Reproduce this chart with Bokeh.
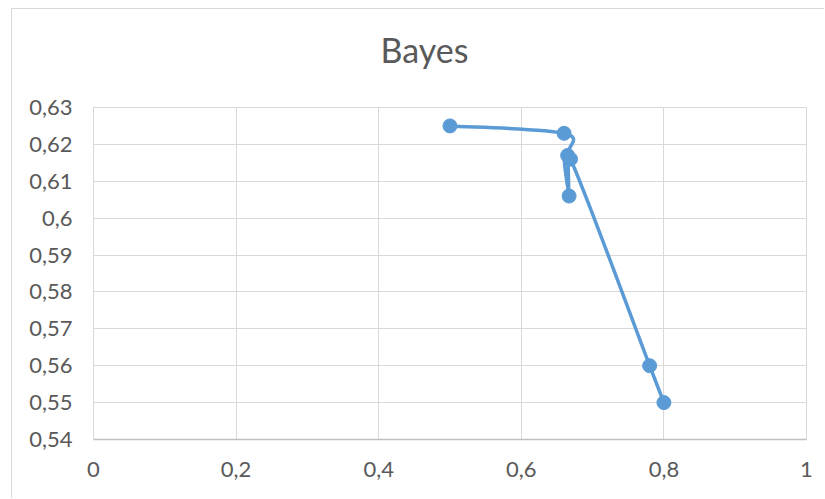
from bokeh.plotting import figure
from bokeh.models import FixedTicker, Range1d, ColumnDataSource
from bokeh.embed import file_html
from bokeh.resources import INLINE

# data
x_vals = [0.5, 0.66, 0.665, 0.667, 0.669, 0.78, 0.8]
y_vals = [0.625, 0.623, 0.617, 0.606, 0.616, 0.56, 0.55]
x_ticks = [0, 0.2, 0.4, 0.6, 0.8, 1.0]
x_labels = ["0", "0,2", "0,4", "0,6", "0,8", "1"]
y_ticks = [0.54, 0.55, 0.56, 0.57, 0.58, 0.59, 0.60, 0.61, 0.62, 0.63]
y_labels = ["0,54", "0,55", "0,56", "0,57", "0,58", "0,59", "0,6", "0,61", "0,62", "0,63"]
title_text = "Bayes"

FONT = "Lato"
GREY = "#595959"
BLUE = "#5B9BD5"
EDGE = "#D9D9D9"

p = figure(frame_width=713, frame_height=332, min_border_left=82, min_border_right=18,
           min_border_top=0, min_border_bottom=59,
           x_range=Range1d(0, 1), y_range=Range1d(0.54, 0.63),
           output_backend="svg", toolbar_location=None, title=title_text)
# outer chart-area edge lines (only top and left edges are visible in the crop)
p.styles = {"margin-left": "11px", "margin-top": "-12px",
            "background-image": f"linear-gradient({EDGE}, {EDGE}), linear-gradient({EDGE}, {EDGE})",
            "background-repeat": "no-repeat",
            "background-position": "0px 20px, 0px 20px",
            "background-size": "100% 1px, 1px 100%"}
p.border_fill_color = None
p.background_fill_color = "white"

p.title.text_font = FONT
p.title.text_font_size = "34px"
p.title.text_font_style = "normal"
p.title.text_color = GREY
p.title.align = "left"
p.title.offset = 287
p.title.standoff = 76

p.outline_line_color = EDGE

p.xaxis.ticker = FixedTicker(ticks=x_ticks)
p.yaxis.ticker = FixedTicker(ticks=y_ticks)
p.xaxis.major_label_overrides = dict(zip(x_ticks, x_labels))
p.yaxis.major_label_overrides = dict(zip(y_ticks, y_labels))
for ax in (p.xaxis, p.yaxis):
    ax.major_tick_line_color = None
    ax.minor_tick_line_color = None
    ax.major_label_text_font = FONT
    ax.major_label_text_font_size = "22px"
    ax.major_label_text_color = GREY
p.xaxis.axis_line_color = "#BFBFBF"
p.xaxis.axis_line_width = 1.5
p.yaxis.axis_line_color = EDGE
p.xaxis.major_label_standoff = 16
p.yaxis.major_label_standoff = 15

p.xgrid.ticker = FixedTicker(ticks=x_ticks)
p.ygrid.ticker = FixedTicker(ticks=y_ticks)
p.grid.grid_line_color = EDGE
p.grid.grid_line_width = 1

# Excel-style smoothed line: cubic Bezier segments (Catmull-Rom control points)
n = len(x_vals)
x0, y0, x1, y1, cx0, cy0, cx1, cy1 = [], [], [], [], [], [], [], []
for i in range(n - 1):
    pm = max(i - 1, 0)
    pp = min(i + 2, n - 1)
    x0.append(x_vals[i]); y0.append(y_vals[i])
    x1.append(x_vals[i + 1]); y1.append(y_vals[i + 1])
    cx0.append(x_vals[i] + (x_vals[i + 1] - x_vals[pm]) / 6)
    cy0.append(y_vals[i] + (y_vals[i + 1] - y_vals[pm]) / 6)
    cx1.append(x_vals[i + 1] - (x_vals[pp] - x_vals[i]) / 6)
    cy1.append(y_vals[i + 1] - (y_vals[pp] - y_vals[i]) / 6)
seg = ColumnDataSource(dict(x0=x0, y0=y0, x1=x1, y1=y1, cx0=cx0, cy0=cy0, cx1=cx1, cy1=cy1))
p.bezier(x0="x0", y0="y0", x1="x1", y1="y1", cx0="cx0", cy0="cy0", cx1="cx1", cy1="cy1",
         source=seg, line_color=BLUE, line_width=3.5)
p.scatter(x_vals, y_vals, size=14, marker="circle", fill_color=BLUE, line_color=BLUE)

open("out.html", "w").write(file_html(p, INLINE))
